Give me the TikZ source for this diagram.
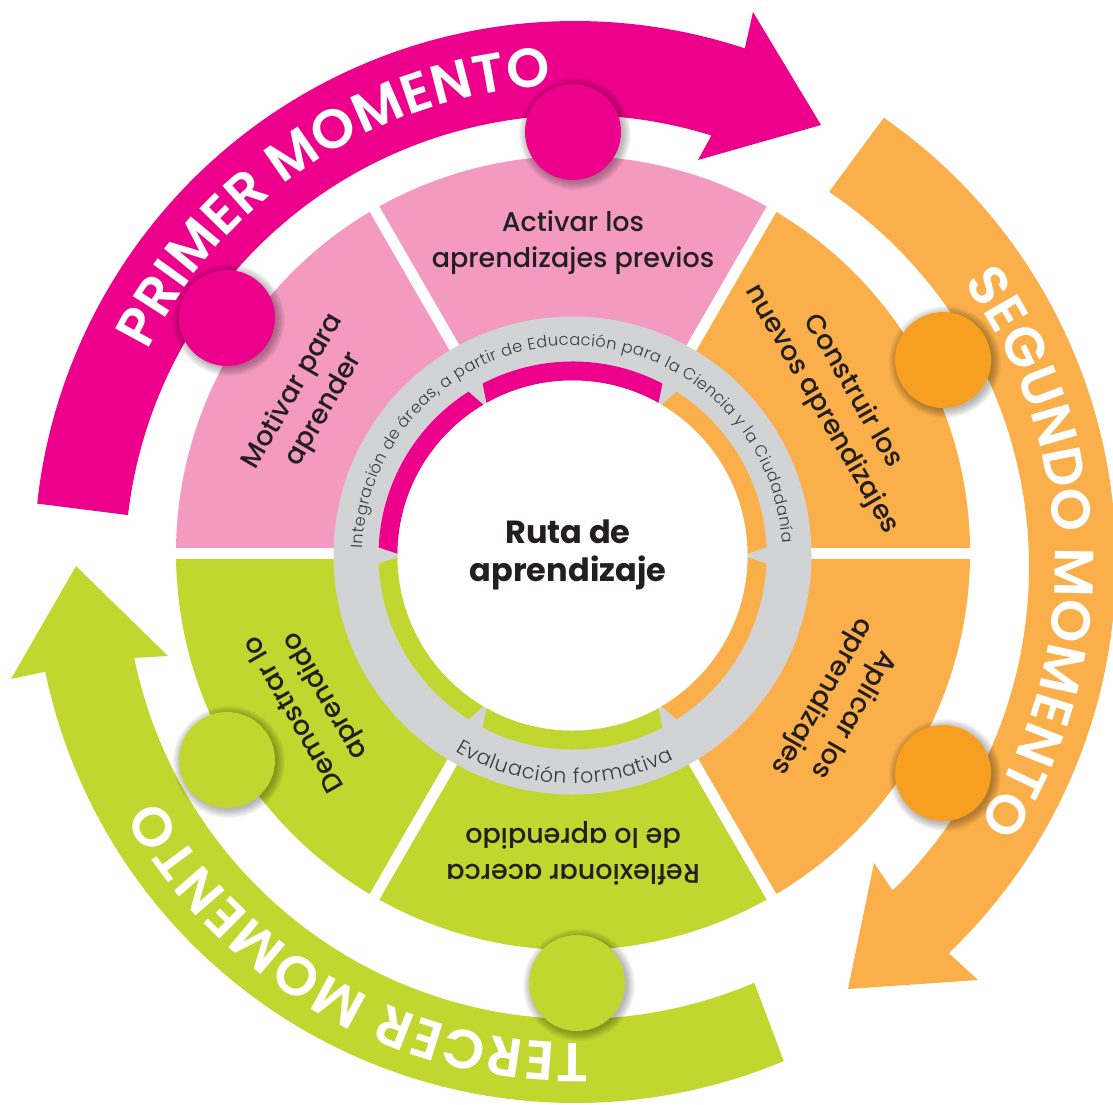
\documentclass[tikz,border=0pt]{standalone}
\usepackage{fontspec}
\setmainfont{Poppins}
\newfontfamily\fmed{Poppins Medium}
\newfontfamily\flight{Poppins Light}
\newfontfamily\fsemi{Poppins SemiBold}
\newfontfamily\fbold{Poppins Bold}
\usetikzlibrary{calc,decorations.text}
\definecolor{mag}{HTML}{EC008C}
\definecolor{pinkp}{HTML}{F49AC1}
\definecolor{orp}{HTML}{FAAF4A}
\definecolor{orc}{HTML}{F79F21}
\definecolor{grn}{HTML}{C1D72F}
\definecolor{gry}{HTML}{D1D3D4}
\definecolor{txt}{HTML}{231F20}
\definecolor{rtxt}{HTML}{3A3A3C}
\tikzset{
  petaltext/.style={font={\fmed\fontsize{27}{36}\selectfont}, text=txt, align=center, inner sep=0pt},
  centretext/.style={font={\fbold\fontsize{32}{38}\selectfont}, text=txt, align=center, inner sep=0pt},
  separator/.style={white, line width=11},
  gapwedge/.style={fill=gry},
  shadowring/.style={fill=black, opacity=0.035}
}
\begin{document}
\begin{tikzpicture}[x=1pt,y=1pt]
\useasboundingbox (0,-1104) rectangle (1113,0);
\coordinate (C) at (573,-553);
\coordinate (G) at (572.5,-555.5);
\coordinate (Bo) at (575,-562);
\coordinate (Bi) at (577,-567);
\coordinate (T) at (576,-564);

% petals
\fill[pinkp] (C) -- ($(C)+(60:397)$) arc[start angle=60,end angle=180,radius=397] -- cycle;
\fill[orp] (C) -- ($(C)+(-60:397)$) arc[start angle=-60,end angle=60,radius=397] -- cycle;
\fill[grn] (C) -- ($(C)+(180:397)$) arc[start angle=180,end angle=300,radius=397] -- cycle;
\foreach \a in {0,60,...,300} \draw[separator] (C) -- ($(C)+(\a:410)$);

% grey ring and inner coloured ring
\fill[gry] (G) circle[radius=239];
\fill[mag] ($(G)+(60:194)$) arc[start angle=60,end angle=180,radius=194] -- ($(G)+(180:175)$) arc[start angle=180,end angle=60,radius=175] -- cycle;
\fill[orp] ($(G)+(-60:194)$) arc[start angle=-60,end angle=60,radius=194] -- ($(G)+(60:175)$) arc[start angle=60,end angle=-60,radius=175] -- cycle;
\fill[grn] ($(G)+(180:194)$) arc[start angle=180,end angle=300,radius=194] -- ($(G)+(300:175)$) arc[start angle=300,end angle=180,radius=175] -- cycle;
\foreach \a in {0,60,...,300} \fill[gapwedge] ($(G)+(\a:170)$) -- ($(G)+({\a-2.6}:197)$) -- ($(G)+({\a+2.6}:197)$) -- cycle;
\fill[white] (G) circle[radius=175];

% ring texts
\path[decorate,decoration={text along path, text align=fit to path, text color=rtxt,
  text={|\flight\fontsize{16.2}{16.2}\selectfont|Integración de áreas, a partir de Educación para la Ciencia y la Ciudadanía}}]
  ($(G)+(178:210)$) arc[start angle=178,end angle=3.5,radius=210];
\path[decorate,decoration={text along path, text align=fit to path, text color=rtxt,
  text={|\flight\fontsize{20.5}{20.5}\selectfont|Evaluación formativa}}]
  ($(G)+(-121:228)$) arc[start angle=-121,end angle=-63.5,radius=228];

% centre
\node[centretext] (ruta) at (568,-555) {Ruta de\\aprendizaje};

% petal texts
\node[petaltext] (activar) at ($(C)+(90:310)$) {Activar los\\aprendizajes previos};
\node[petaltext, rotate=60] (motivar) at ($(C)+(150:305)$) {Motivar para\\aprender};
\node[petaltext, rotate=-60] (construir) at ($(C)+(30:305)$) {Construir los\\nuevos aprendizajes};
\node[petaltext, rotate=-120] (aplicar) at ($(C)+(-30:305)$) {Aplicar los\\aprendizajes};
\node[petaltext, rotate=180] (reflexionar) at ($(C)+(-90:300)$) {Reflexionar acerca\\de lo aprendido};
\node[petaltext, rotate=120] (demostrar) at ($(C)+(210:303)$) {Demostrar lo\\aprendido};

% arrows
\fill[mag] ($(Bo)+(173.8:541)$) arc[start angle=173.8,end angle=71.7,radius=541] -- (753,-12) -- (821,-125) -- (698,-160) -- ($(Bi)+(72.7:452)$) arc[start angle=72.7,end angle=173.4,radius=452] -- cycle;
\fill[orp] ($(Bo)+(55.2:541)$) arc[start angle=55.2,end angle=-46.3,radius=541] -- (978,-980) -- (848,-989) -- (874,-863) -- ($(Bi)+(-45.7:452)$) arc[start angle=-45.7,end angle=56.1,radius=452] -- cycle;
\fill[grn] ($(Bo)+(-67.3:541)$) arc[start angle=-67.3,end angle=-168.3,radius=541] -- (11,-679) -- (76,-566) -- (168,-656) -- ($(Bi)+(-168.4:452)$) arc[start angle=-168.4,end angle=-66.9,radius=452] -- cycle;

% band texts
\path[decorate,decoration={text along path, text align=fit to path, text color=white,
  text={|\fsemi\fontsize{55}{55}\selectfont|PRIMER MOMENTO}}]
  ($(T)+(153.5:479)$) arc[start angle=153.5,end angle=93,radius=479];
\path[decorate,decoration={text along path, text align=fit to path, text color=white,
  text={|\fsemi\fontsize{55}{55}\selectfont|SEGUNDO MOMENTO}}]
  ($(T)+(36:479)$) arc[start angle=36,end angle=-32.8,radius=479];
\path[decorate,decoration={text along path, text align=fit to path, text color=white,
  text={|\fsemi\fontsize{55}{55}\selectfont|TERCER MOMENTO}}]
  ($(T)+(271.5:479)$) arc[start angle=271.5,end angle=209.3,radius=479];

% dots with soft shadows
\foreach \x/\y/\c/\n in {573/-132/mag/d1, 227/-318/mag/d2, 943/-360/orc/d3, 943/-773/orc/d4, 577/-983/grn/d5, 227/-760/grn/d6}{
  \foreach \k in {1,...,9} \fill[shadowring] ({\x+2},{\y-2}) circle[radius={47+\k}];
  \fill[\c] (\x,\y) circle[radius=48];
  \coordinate (\n) at (\x,\y);
}
\end{tikzpicture}
\end{document}
